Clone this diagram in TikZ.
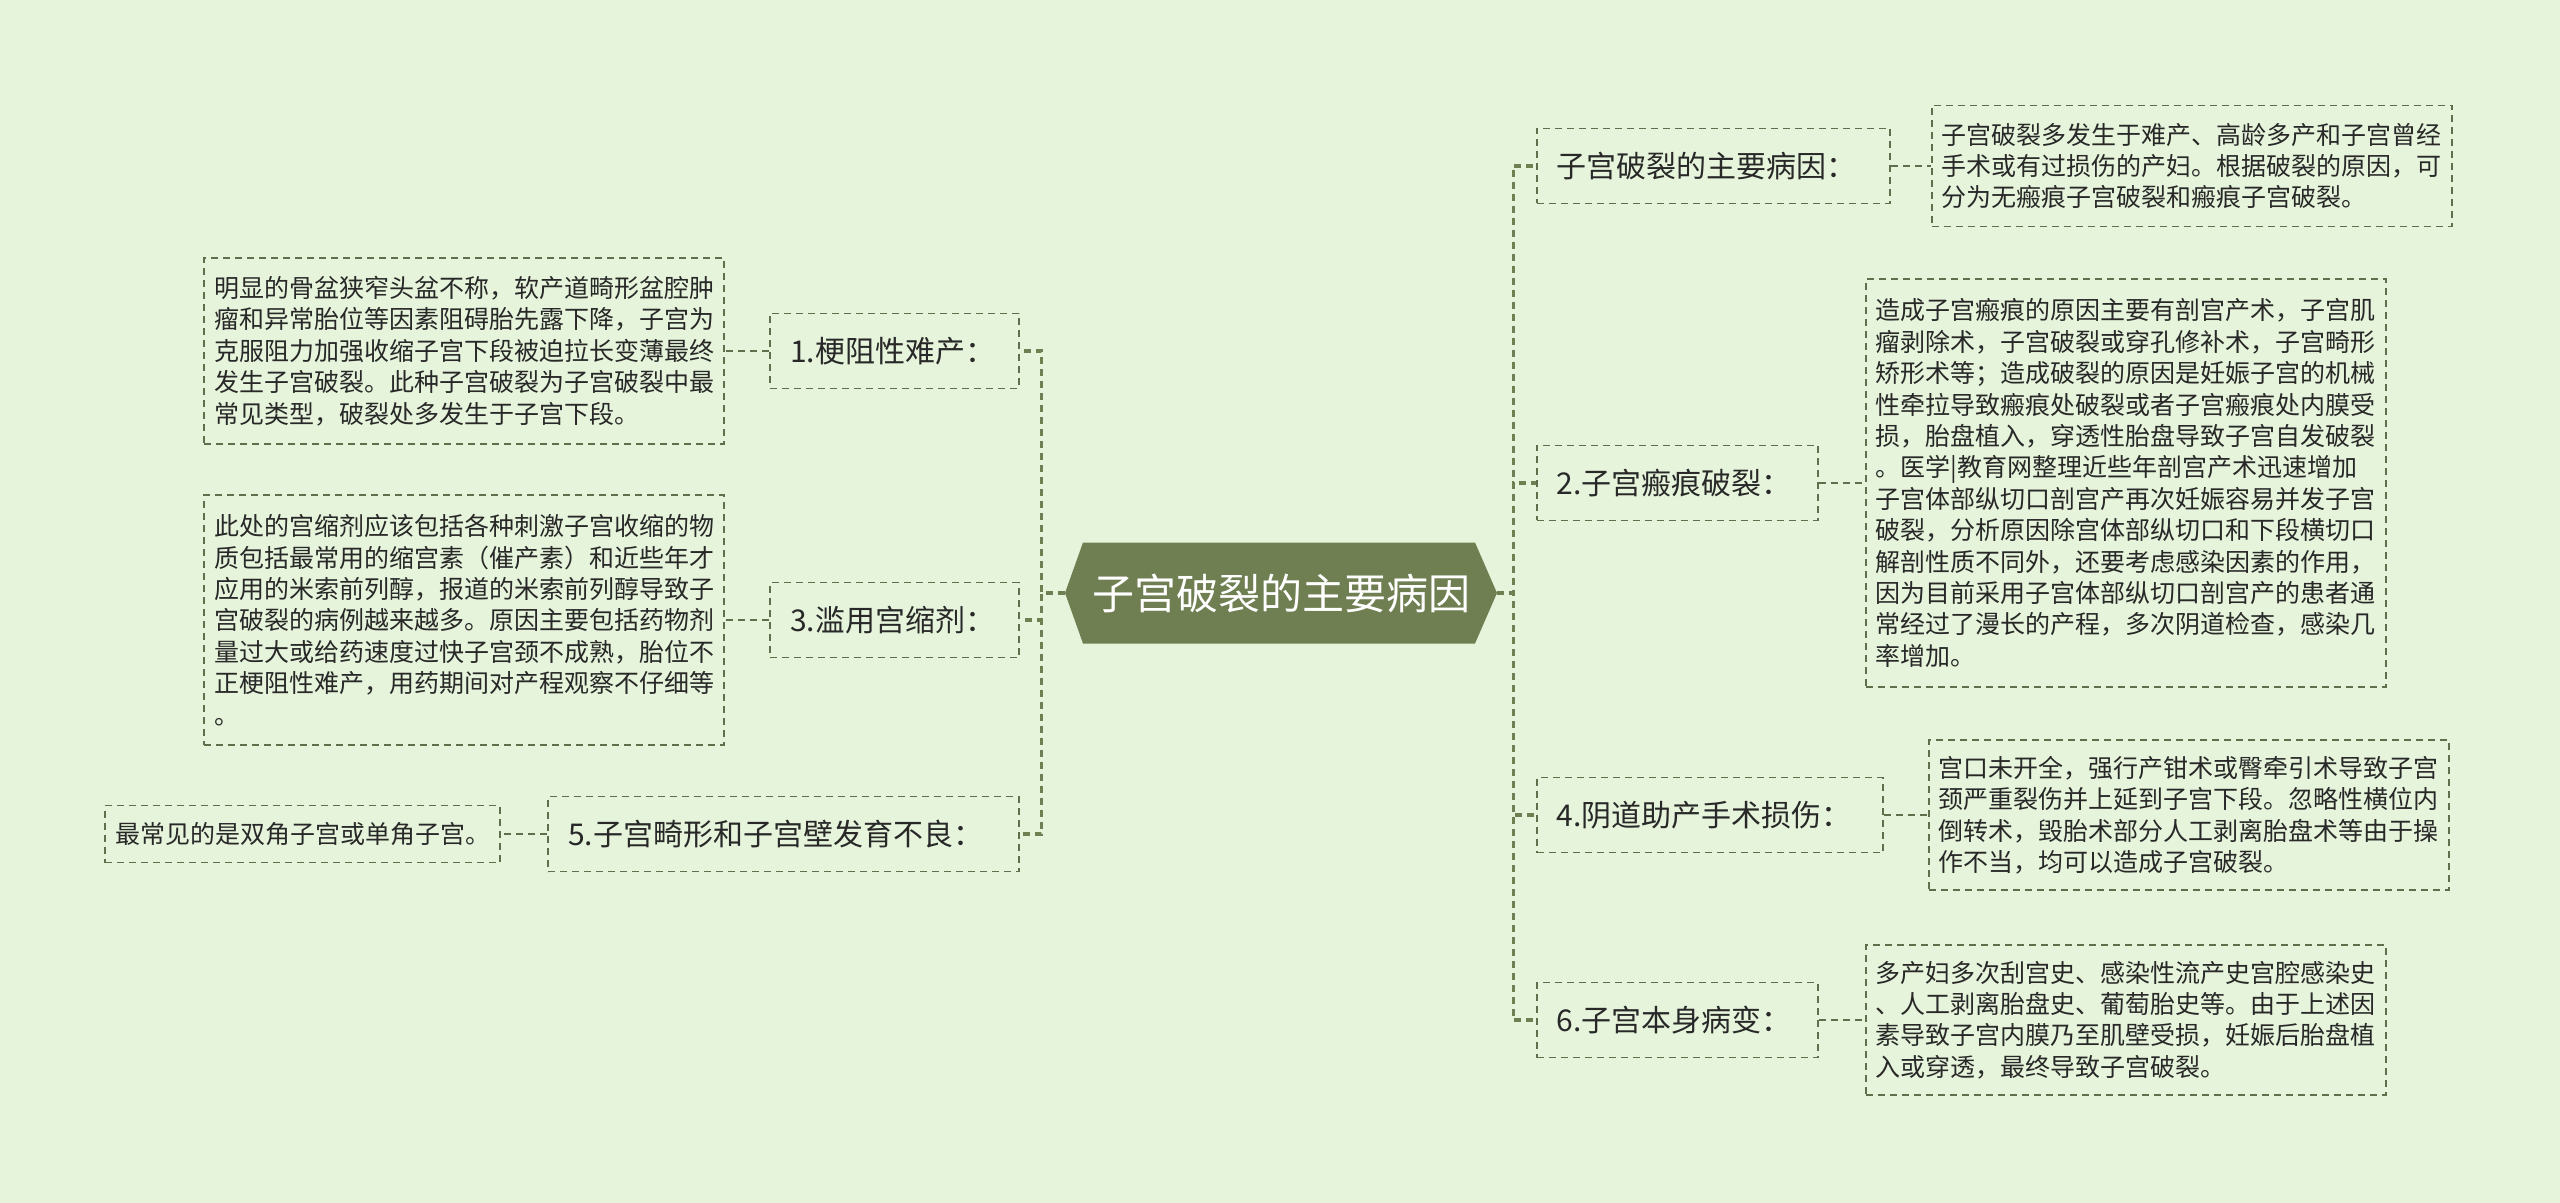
\documentclass[tikz,border=0pt]{standalone}
\usepackage{fontspec}
\setmainfont{Noto Sans CJK SC}
\usepackage{tikz}
\usetikzlibrary{calc, positioning}
\usepackage{xcolor}

\definecolor{bgcol}{RGB}{230,244,219}
\definecolor{rootcol}{RGB}{111,127,82}
\definecolor{boxcol}{RGB}{95,110,75}
\definecolor{txtcol}{RGB}{40,40,40}

\tikzset{
  root/.style={minimum width=216pt, minimum height=50.5pt, inner sep=0pt, fill=bgcol,
    text=white, font=\fontsize{21}{25}\selectfont,
    path picture={\fill[rootcol] (path picture bounding box.west)
      -- ([xshift=9pt]path picture bounding box.north west)
      -- ([xshift=-11pt]path picture bounding box.north east)
      -- (path picture bounding box.east)
      -- ([xshift=-11pt]path picture bounding box.south east)
      -- ([xshift=9pt]path picture bounding box.south west) -- cycle;}},
  lbl/.style={draw=boxcol, line width=0.8pt, dash pattern=on 3.5pt off 2.5pt, text=txtcol,
    font=\fontsize{15}{18}\selectfont, inner xsep=10pt, inner ysep=0pt,
    minimum height=37.5pt, text width=#1, align=left},
  note/.style={draw=boxcol, line width=0.8pt, dash pattern=on 3.5pt off 2.5pt, text=txtcol,
    font=\fontsize{12.5}{15.7}\selectfont, inner xsep=5pt, inner ysep=0pt,
    text width=#1, align=left},
  note/.default=250pt,
  trunk/.style={draw=rootcol, line width=1.6pt, dash pattern=on 3.5pt off 2.5pt},
  link/.style={draw=boxcol, line width=0.8pt, dash pattern=on 3.5pt off 2.5pt}
}

\begin{document}
\begin{tikzpicture}[x=0.5pt, y=-0.5pt]
  % background
  \fill[bgcol] (0,0) rectangle (2560,1203);

  % root
  \node[root] (root) at (1281,593) {子宫破裂的主要病因};

  % right branches
  \node[lbl=156.5pt, anchor=west] (r0) at (1536,166) {子宫破裂的主要病因：};
  \node[lbl=120.5pt, anchor=west] (r2) at (1536,483) {2.子宫瘢痕破裂：};
  \node[lbl=153pt, anchor=west] (r4) at (1536,815) {4.阴道助产手术损伤：};
  \node[lbl=120.5pt, anchor=west] (r6) at (1536,1020) {6.子宫本身病变：};

  \node[note, anchor=west, minimum height=60.5pt] (d0) at (1931,166) {子宫破裂多发生于难产、高龄多产和子宫曾经\\
手术或有过损伤的产妇。根据破裂的原因，可\\
分为无瘢痕子宫破裂和瘢痕子宫破裂。};
  \node[note, anchor=west, minimum height=204pt] (d2) at (1865,483) {造成子宫瘢痕的原因主要有剖宫产术，子宫肌\\
瘤剥除术，子宫破裂或穿孔修补术，子宫畸形\\
矫形术等；造成破裂的原因是妊娠子宫的机械\\
性牵拉导致瘢痕处破裂或者子宫瘢痕处内膜受\\
损，胎盘植入，穿透性胎盘导致子宫自发破裂\\
。医学|教育网整理近些年剖宫产术迅速增加\\
子宫体部纵切口剖宫产再次妊娠容易并发子宫\\
破裂，分析原因除宫体部纵切口和下段横切口\\
解剖性质不同外，还要考虑感染因素的作用，\\
因为目前采用子宫体部纵切口剖宫产的患者通\\
常经过了漫长的产程，多次阴道检查，感染几\\
率增加。};
  \node[note, anchor=west, minimum height=75pt] (d4) at (1928,815) {宫口未开全，强行产钳术或臀牵引术导致子宫\\
颈严重裂伤并上延到子宫下段。忽略性横位内\\
倒转术，毁胎术部分人工剥离胎盘术等由于操\\
作不当，均可以造成子宫破裂。};
  \node[note, anchor=west, minimum height=75pt] (d6) at (1865,1020) {多产妇多次刮宫史、感染性流产史宫腔感染史\\
、人工剥离胎盘史、葡萄胎史等。由于上述因\\
素导致子宫内膜乃至肌壁受损，妊娠后胎盘植\\
入或穿透，最终导致子宫破裂。};

  % left branches
  \node[lbl=104.5pt, anchor=east] (l1) at (1020,351) {1.梗阻性难产：};
  \node[lbl=104.5pt, anchor=east] (l3) at (1020,620) {3.滥用宫缩剂：};
  \node[lbl=215.5pt, anchor=east] (l5) at (1020,834) {5.子宫畸形和子宫壁发育不良：};

  \node[note, anchor=east, minimum height=93pt] (dl1) at (725,351) {明显的骨盆狭窄头盆不称，软产道畸形盆腔肿\\
瘤和异常胎位等因素阻碍胎先露下降，子宫为\\
克服阻力加强收缩子宫下段被迫拉长变薄最终\\
发生子宫破裂。此种子宫破裂为子宫破裂中最\\
常见类型，破裂处多发生于子宫下段。};
  \node[note, anchor=east, minimum height=125pt] (dl3) at (725,620) {此处的宫缩剂应该包括各种刺激子宫收缩的物\\
质包括最常用的缩宫素（催产素）和近些年才\\
应用的米索前列醇，报道的米索前列醇导致子\\
宫破裂的病例越来越多。原因主要包括药物剂\\
量过大或给药速度过快子宫颈不成熟，胎位不\\
正梗阻性难产，用药期间对产程观察不仔细等\\
。};
  \node[note=187.5pt, anchor=east, minimum height=28.5pt] (dl5) at (501,834) {最常见的是双角子宫或单角子宫。};

  % trunk connectors
  \foreach \n in {r0,r2,r4,r6}
    \draw[trunk] (root.east) -- ++(16,0) |- (\n.west);
  \foreach \n in {l1,l3,l5}
    \draw[trunk] (root.west) -- ++(-23,0) |- (\n.east);

  % label to note
  \draw[link] (r0.east) -- (d0.west);
  \draw[link] (r2.east) -- (d2.west);
  \draw[link] (r4.east) -- (d4.west);
  \draw[link] (r6.east) -- (d6.west);
  \draw[link] (l1.west) -- (dl1.east);
  \draw[link] (l3.west) -- (dl3.east);
  \draw[link] (l5.west) -- (dl5.east);
\end{tikzpicture}
\end{document}
